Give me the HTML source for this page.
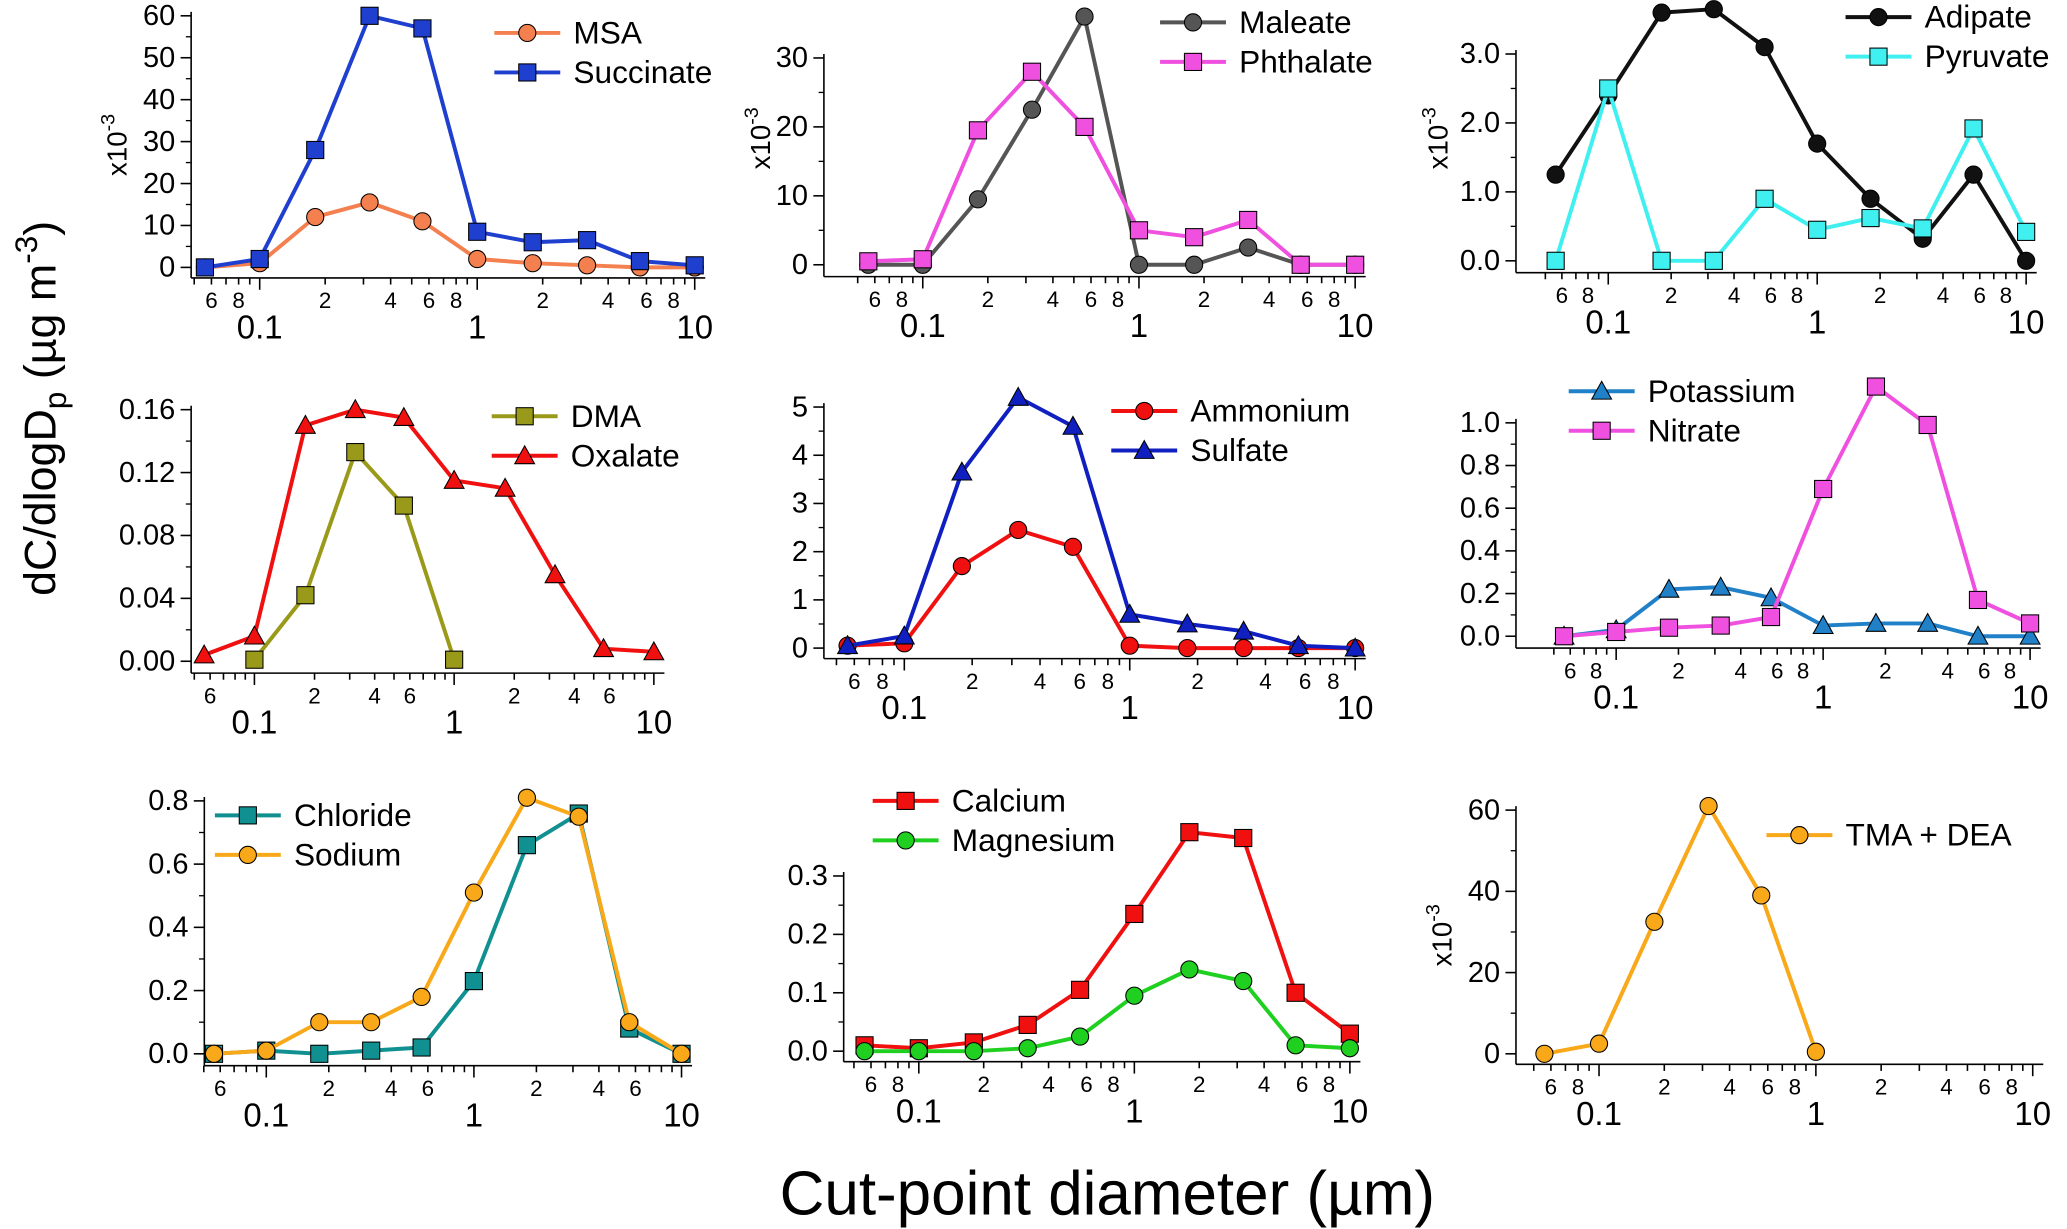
<!DOCTYPE html>
<html><head><meta charset="utf-8"><style>
html,body{margin:0;padding:0;background:#fff;}
svg{display:block;font-family:"Liberation Sans",Arial,sans-serif;}
</style></head><body>
<svg id="fig" width="2067" height="1229" viewBox="0 0 1568 933" preserveAspectRatio="none" xmlns="http://www.w3.org/2000/svg">
<text transform="translate(42,310) rotate(-90)" text-anchor="middle" font-size="34">dC/dlogD<tspan font-size="24" dy="8">p</tspan><tspan dy="-8"> (µg m</tspan><tspan font-size="24" dy="-14">-3</tspan><tspan dy="14">)</tspan></text>
<text x="840" y="922" text-anchor="middle" font-size="47">Cut-point diameter (µm)</text>
</svg>
<script>
const diameters=[0.056,0.1,0.18,0.32,0.56,1.0,1.8,3.2,5.6,10];
const msa=[0,1,12,15.5,11,2,1,0.5,0,0];
const succinate=[0,2,28,60,57,8.5,6,6.5,1.5,0.5];
const maleate=[0,0,9.5,22.5,36,0,0,2.5,0,0];
const phthalate=[0.5,0.8,19.5,28,20,5,4,6.5,0,0];
const adipate=[1.25,2.4,3.6,3.65,3.1,1.7,0.9,0.32,1.25,0];
const pyruvate=[0,2.5,0,0,0.9,0.45,0.62,0.47,1.92,0.42];
const dma=[null,0.001,0.042,0.133,0.099,0.001,null,null,null,null];
const oxalate=[0.004,0.016,0.15,0.16,0.155,0.115,0.11,0.055,0.008,0.006];
const ammonium=[0.05,0.1,1.7,2.45,2.1,0.05,0,0,0,0];
const sulfate=[0.05,0.25,3.65,5.2,4.6,0.7,0.5,0.35,0.05,0];
const potassium=[0,0.03,0.22,0.23,0.18,0.05,0.06,0.06,0,0];
const nitrate=[0,0.02,0.04,0.05,0.09,0.69,1.17,0.99,0.17,0.06];
const chloride=[0,0.01,0,0.01,0.02,0.23,0.66,0.76,0.08,0];
const sodium=[0,0.01,0.1,0.1,0.18,0.51,0.81,0.75,0.1,0];
const calcium=[0.01,0.005,0.015,0.045,0.105,0.235,0.375,0.365,0.1,0.03];
const magnesium=[0,0,0,0.005,0.025,0.095,0.14,0.12,0.01,0.005];
const tmaDea=[0,2.5,32.5,61,39,0.5,null,null,null,null];
const ticks1=[0,10,20,30,40,50,60], ticks2=[0,10,20,30], ticks3=[0,1,2,3];
const ticks4=[0,0.04,0.08,0.12,0.16], ticks5=[0,1,2,3,4,5], ticks6=[0,0.2,0.4,0.6,0.8,1.0];
const ticks7=[0,0.2,0.4,0.6,0.8], ticks8=[0,0.1,0.2,0.3], ticks9=[0,20,40,60];
const decadeLabels=["0.1","1","10"];

const NS="http://www.w3.org/2000/svg", svg=document.getElementById('fig');
function mk(tag,at,parent){const e=document.createElementNS(NS,tag);for(const k in at)e.setAttribute(k,at[k]);(parent||svg).appendChild(e);return e;}

const panels=[
{id:'msa-succinate',ax:145,dec1:197,decW:165,y0:203,yTop:12,yMaxV:60,xAxisY:211,ticks:ticks1,fmt:v=>v,minor:5,exp:[90,110],full:true,
 series:[{name:'MSA',d:msa,c:'#f4804f',m:'circle'},{name:'Succinate',d:succinate,c:'#1f3fcf',m:'square'}],leg:[375,25]},
{id:'maleate-phthalate',ax:625,dec1:700,decW:164,y0:201,yTop:44,yMaxV:30,xAxisY:210,ticks:ticks2,fmt:v=>v,minor:5,exp:[578,105],full:true,
 series:[{name:'Maleate',d:maleate,c:'#555555',m:'circle'},{name:'Phthalate',d:phthalate,c:'#f050e0',m:'square'}],leg:[880,17]},
{id:'adipate-pyruvate',ax:1150,dec1:1220,decW:158.5,y0:198,yTop:41,yMaxV:3,xAxisY:207,ticks:ticks3,fmt:v=>v.toFixed(1),minor:0.5,exp:[1092,105],full:true,
 series:[{name:'Adipate',d:adipate,c:'#111111',m:'circle'},{name:'Pyruvate',d:pyruvate,c:'#40f0f0',m:'square'}],leg:[1400,13]},
{id:'dma-oxalate',ax:145,dec1:193,decW:151.5,y0:502,yTop:311,yMaxV:0.16,xAxisY:511,ticks:ticks4,fmt:v=>v.toFixed(2),minor:0.02,full:false,
 series:[{name:'DMA',d:dma,c:'#9a9a1a',m:'square'},{name:'Oxalate',d:oxalate,c:'#f01010',m:'triangle'}],leg:[373,316]},
{id:'ammonium-sulfate',ax:625,dec1:686,decW:171,y0:492,yTop:309,yMaxV:5,xAxisY:500,ticks:ticks5,fmt:v=>v,minor:0.5,full:true,
 series:[{name:'Ammonium',d:ammonium,c:'#f01010',m:'circle'},{name:'Sulfate',d:sulfate,c:'#1020c0',m:'triangle'}],leg:[843,312]},
{id:'potassium-nitrate',ax:1150,dec1:1226,decW:157,y0:483,yTop:321,yMaxV:1,xAxisY:492,ticks:ticks6,fmt:v=>v.toFixed(1),minor:0.1,full:true,
 series:[{name:'Potassium',d:potassium,c:'#2080c8',m:'triangle'},{name:'Nitrate',d:nitrate,c:'#f050e0',m:'square'}],leg:[1190,297]},
{id:'chloride-sodium',ax:155,dec1:202,decW:157.5,y0:800,yTop:608,yMaxV:0.8,xAxisY:809,ticks:ticks7,fmt:v=>v.toFixed(1),minor:0.1,full:false,
 series:[{name:'Chloride',d:chloride,c:'#109090',m:'square'},{name:'Sodium',d:sodium,c:'#f8a818',m:'circle'}],leg:[163,619]},
{id:'calcium-magnesium',ax:640,dec1:697,decW:163.5,y0:798,yTop:665,yMaxV:0.3,xAxisY:806,ticks:ticks8,fmt:v=>v.toFixed(1),minor:0.05,full:true,
 series:[{name:'Calcium',d:calcium,c:'#f01010',m:'square'},{name:'Magnesium',d:magnesium,c:'#20d020',m:'circle'}],leg:[662,608]},
{id:'tma-dea',ax:1150,dec1:1213,decW:164.5,y0:800,yTop:615,yMaxV:60,xAxisY:808,ticks:ticks9,fmt:v=>v,minor:10,exp:[1095,710],full:true,
 series:[{name:'TMA + DEA',d:tmaDea,c:'#f8a818',m:'circle'}],leg:[1340,634]}
];

function marker(g,m,x,y,c){
  let e;
  if(m==='circle') e=mk('circle',{cx:x,cy:y,r:6.5,fill:c,stroke:'#000','stroke-width':0.8},g);
  else if(m==='square') e=mk('rect',{x:x-6.5,y:y-6.5,width:13,height:13,fill:c,stroke:'#000','stroke-width':0.8},g);
  else e=mk('polygon',{points:`${x},${y-7.5} ${x-7.5},${y+6} ${x+7.5},${y+6}`,fill:c,stroke:'#000','stroke-width':0.8},g);
  
  
}

panels.forEach(p=>{
  const g=mk('g',{});
  
  
  const X=d=>p.dec1+p.decW*Math.log10(d/0.1);
  const Y=v=>p.y0-(p.y0-p.yTop)*v/p.yMaxV;
  const xMax=X(10)+8;
  const ya=mk('line',{x1:p.ax,y1:p.xAxisY,x2:p.ax,y2:p.yTop-3,stroke:'#000','stroke-width':1.2},g);
   
  const xa=mk('line',{x1:p.ax,y1:p.xAxisY,x2:xMax,y2:p.xAxisY,stroke:'#000','stroke-width':1.2},g);
   
  p.ticks.forEach(v=>{
    mk('line',{x1:p.ax-8,x2:p.ax,y1:Y(v),y2:Y(v),stroke:'#000','stroke-width':1.2},g);
    const t=mk('text',{x:p.ax-12,y:Y(v)+7,'text-anchor':'end','font-size':22},g);
    t.textContent=p.fmt(v);
     
  });
  for(let v=p.minor;v<p.yMaxV;v+=p.minor*2){
    mk('line',{x1:p.ax-4,x2:p.ax,y1:Y(v),y2:Y(v),stroke:'#000','stroke-width':1},g);
  }
  if(p.exp){
    const t=mk('text',{transform:`translate(${p.exp[0]+6},${p.exp[1]}) rotate(-90)`,'text-anchor':'middle','font-size':21},g);
    t.innerHTML='x10<tspan dy="-9" font-size="15">-3</tspan>';
     
  }
  const minorLab=p.full?[6,8,2,4,6,8,2,4,6,8]:[6,2,4,6,2,4,6];
  [0.05,0.06,0.07,0.08,0.09,0.1,0.2,0.3,0.4,0.5,0.6,0.7,0.8,0.9,1,2,3,4,5,6,7,8,9,10].forEach(d=>{
    const major=[0.1,1,10].includes(d);
    mk('line',{x1:X(d),x2:X(d),y1:p.xAxisY,y2:p.xAxisY+(major?9:5),stroke:'#000','stroke-width':1.2},g);
  });
  const labPos=p.full?[0.06,0.08,0.2,0.4,0.6,0.8,2,4,6,8]:[0.06,0.2,0.4,0.6,2,4,6];
  labPos.forEach((d,i)=>{
    const t=mk('text',{x:X(d),y:p.xAxisY+23,'text-anchor':'middle','font-size':17},g);
    t.textContent=minorLab[i];
     
  });
  [0.1,1,10].forEach((d,i)=>{
    const t=mk('text',{x:X(d),y:p.xAxisY+46,'text-anchor':'middle','font-size':25},g);
    t.textContent=decadeLabels[i];
     
  });
  p.series.forEach((s,si)=>{
    let pts=[];
    s.d.forEach((v,i)=>{if(v!==null)pts.push([X(diameters[i]),Y(v)]);});
    const pl=mk('polyline',{points:pts.map(q=>q.join(',')).join(' '),fill:'none',stroke:s.c,'stroke-width':3,'stroke-linejoin':'round'},g);
    
    
    pts.forEach(q=>marker(g,s.m,q[0],q[1],s.c));
    const ly=p.leg[1]+si*30, lx=p.leg[0];
    const lg=mk('g',{},g);
     
    mk('line',{x1:lx,x2:lx+50,y1:ly,y2:ly,stroke:s.c,'stroke-width':3},lg);
    marker(lg,s.m,lx+25,ly,s.c);
    const t=mk('text',{x:lx+60,y:ly+8,'font-size':24},lg);
    t.textContent=s.name;
  });
});
</script>
</body></html>
